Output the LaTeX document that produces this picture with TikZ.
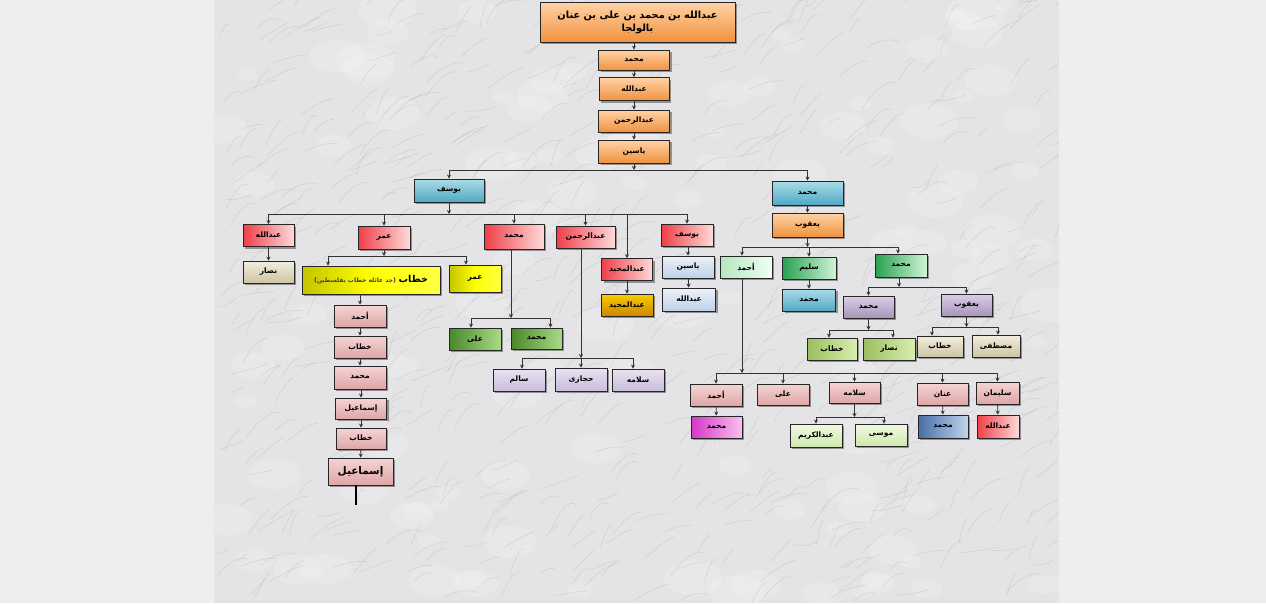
\documentclass[tikz,border=0pt]{standalone}
\usepackage{fontspec}
\usetikzlibrary{arrows.meta,shadows,calc}
\TeXXeTstate=1
\newfontfamily\ar[Script=Arabic]{DejaVu Sans}
\newfontfamily\dvl{DejaVu Sans}
\newcommand\rt[1]{\beginR#1\endR}
\definecolor{outerbg}{HTML}{EEEEEE}
\definecolor{marblebg}{HTML}{E4E4E7}
\tikzset{
  bx/.style={draw=black!85, line width=0.8pt, inner sep=1pt, align=center,
    font=\ar\bfseries\fontsize{7.5}{9}\selectfont,
    drop shadow={shadow xshift=2.2pt, shadow yshift=-2.2pt, opacity=0.5, fill=black!75}},
  sz/.style n args={2}{minimum width=#1pt, minimum height=#2pt},
  link/.style={draw=black!80, line width=0.9pt},
  arr/.style={link, -{Stealth[length=4pt,width=4pt]}},
  fOr/.style={top color=orange!35!white, bottom color={rgb,255:red,240;green,146;blue,63}},
  fBl/.style={top color={rgb,255:red,170;green,220;blue,232}, bottom color={rgb,255:red,80;green,168;blue,196}},
  fRd/.style={left color={rgb,255:red,240;green,62;blue,72}, right color={rgb,255:red,253;green,218;blue,218}},
  fPk/.style={top color={rgb,255:red,245;green,212;blue,212}, bottom color={rgb,255:red,222;green,166;blue,166}},
  fYe/.style={left color={rgb,255:red,196;green,196;blue,0}, right color={rgb,255:red,255;green,255;blue,70}, middle color={rgb,255:red,255;green,255;blue,0}},
  fGo/.style={top color={rgb,255:red,250;green,204;blue,0}, bottom color={rgb,255:red,206;green,134;blue,0}},
  fLb/.style={top color={rgb,255:red,236;green,242;blue,250}, bottom color={rgb,255:red,190;green,208;blue,232}},
  fBe/.style={top color={rgb,255:red,242;green,238;blue,222}, bottom color={rgb,255:red,204;green,196;blue,164}},
  fGr/.style={left color={rgb,255:red,72;green,136;blue,40}, right color={rgb,255:red,170;green,218;blue,136}},
  fGs/.style={left color={rgb,255:red,40;green,160;blue,80}, right color={rgb,255:red,208;green,245;blue,216}},
  fGa/.style={left color={rgb,255:red,180;green,230;blue,190}, right color={rgb,255:red,240;green,255;blue,242}},
  fGl/.style={left color={rgb,255:red,156;green,190;blue,92}, right color={rgb,255:red,216;green,238;blue,176}},
  fGp/.style={top color={rgb,255:red,242;green,250;blue,226}, bottom color={rgb,255:red,206;green,232;blue,174}},
  fLv/.style={top color={rgb,255:red,234;green,226;blue,242}, bottom color={rgb,255:red,200;green,188;blue,220}},
  fPg/.style={top color={rgb,255:red,218;green,206;blue,230}, bottom color={rgb,255:red,166;green,150;blue,184}},
  fMg/.style={left color={rgb,255:red,214;green,54;blue,200}, right color={rgb,255:red,248;green,192;blue,240}},
  fBg/.style={left color={rgb,255:red,72;green,110;blue,168}, right color={rgb,255:red,192;green,212;blue,236}},
}
\begin{document}
\begin{tikzpicture}[x=1pt,y=-1pt]
\useasboundingbox (0,0) rectangle (1266,603);
\fill[outerbg] (0,0) rectangle (1266,603);
\begin{scope}
\clip (214,0) rectangle (1059,603);
\fill[marblebg] (214,0) rectangle (1059,603);
\pgfmathsetseed{12}
\foreach \i in {1,...,120}{
  \pgfmathsetmacro\xa{214+845*rnd}
  \pgfmathsetmacro\ya{603*rnd}
  \pgfmathsetmacro\rx{8+22*rnd}
  \fill[white, opacity=0.16] (\xa,\ya) ellipse ({\rx} and {\rx*0.6});
}
\foreach \i in {1,...,650}{
  \pgfmathsetmacro\xa{214+845*rnd}
  \pgfmathsetmacro\ya{603*rnd}
  \pgfmathsetmacro\dx{8+30*rnd}
  \pgfmathsetmacro\dy{-4-22*rnd}
  \pgfmathsetmacro\cc{5*rand}
  \draw[black!60, opacity=0.18, line width=0.45pt] (\xa,\ya) .. controls +(\dx*0.3,\dy*0.5+\cc) and +(-\dx*0.3,\cc) .. +(\dx,\dy);
}
\end{scope}

% ---------- main chain ----------
\node[bx, fOr, sz={195}{40}, font=\ar\bfseries\fontsize{9.8}{13}\selectfont] (root) at (637.5,22) {\rt{عبدالله بن محمد بن على بن عنان}\\ \rt{بالولجا}};
\node[bx, fOr, sz={71}{20}] (n1) at (634,60) {\rt{محمد}};
\node[bx, fOr, sz={70}{23}] (n2) at (634,89) {\rt{عبدالله}};
\node[bx, fOr, sz={71}{22}] (n3) at (634,121) {\rt{عبدالرحمن}};
\node[bx, fOr, sz={71}{23}] (n4) at (634,151.5) {\rt{ياسين}};

\node[bx, fBl, sz={70}{23}] (yus) at (449,190.5) {\rt{يوسف}};
\node[bx, fBl, sz={71}{24}] (muhB) at (807.5,193) {\rt{محمد}};

% ---------- Yusuf branch ----------
\node[bx, fRd, sz={51}{22}] (cAbd) at (268.5,235.5) {\rt{عبدالله}};
\node[bx, fRd, sz={52}{23}] (cUmar) at (384,237.5) {\rt{عمر}};
\node[bx, fRd, sz={60}{25}] (cMuh) at (514,236.5) {\rt{محمد}};
\node[bx, fRd, sz={59}{22}] (cAbdr) at (585.5,237) {\rt{عبدالرحمن}};
\node[bx, fRd, sz={51}{22}] (cAbdm) at (627,269.5) {\rt{عبدالمجيد}};
\node[bx, fRd, sz={52}{22}] (cYus) at (687,235) {\rt{يوسف}};

\node[bx, fBe, sz={51}{22}] (nas1) at (268.5,272) {\rt{نصار}};

\node[bx, fYe, sz={138}{28}] (khat) at (371,280) {{\color{black!75}{\dvl\fontsize{6.5}{7}\selectfont(}\mbox{\fontsize{6}{7}\selectfont\rt{جد عائلة خطاب بفلسطين}}{\dvl\fontsize{6.5}{7}\selectfont)}}\ \mbox{\fontsize{9.5}{11}\selectfont\rt{خطاب}}};
\node[bx, fYe, sz={52}{27}] (umY) at (475,278.5) {\rt{عمر}};

\node[bx, fPk, sz={52}{22}] (a1) at (360,316) {\rt{أحمد}};
\node[bx, fPk, sz={52}{22}] (a2) at (360,347) {\rt{خطاب}};
\node[bx, fPk, sz={52}{23}] (a3) at (360,377.5) {\rt{محمد}};
\node[bx, fPk, sz={51}{21}] (a4) at (361,408.5) {\rt{إسماعيل}};
\node[bx, fPk, sz={50}{21}] (a5) at (361,438.5) {\rt{خطاب}};
\node[bx, fPk, sz={65}{27}, font=\ar\bfseries\fontsize{10.5}{12}\selectfont] (a6) at (360.5,471.5) {\rt{إسماعيل}};
\coordinate (endl) at (356,505);

\node[bx, fGr, sz={52}{22}] (ali) at (475,339) {\rt{على}};
\node[bx, fGr, sz={51}{21}] (muhGr) at (536.5,338.5) {\rt{محمد}};

\node[bx, fLv, sz={52}{22}] (salem) at (519,380) {\rt{سالم}};
\node[bx, fLv, sz={52}{23}] (hij) at (581,379.5) {\rt{حجازى}};
\node[bx, fLv, sz={52}{22}] (salama) at (638,380) {\rt{سلامه}};

\node[bx, fGo, sz={52}{22}] (gold) at (627,305) {\rt{عبدالمجيد}};
\node[bx, fLb, sz={52}{22}] (yasL) at (688,267) {\rt{ياسين}};
\node[bx, fLb, sz={53}{23}] (abdL) at (689,299.5) {\rt{عبدالله}};

% ---------- Muhammad branch ----------
\node[bx, fOr, sz={71}{24}] (yaqO) at (807.5,225) {\rt{يعقوب}};
\node[bx, fGa, sz={52}{22}] (ahG) at (746,267) {\rt{أحمد}};
\node[bx, fGs, sz={54}{22}] (salim) at (809,268) {\rt{سليم}};
\node[bx, fGs, sz={52}{23}] (muhG) at (901,265.5) {\rt{محمد}};
\node[bx, fBl, sz={53}{22}] (muhBl) at (809,300) {\rt{محمد}};

\node[bx, fPg, sz={51}{22}] (muhL) at (868.5,307) {\rt{محمد}};
\node[bx, fPg, sz={51}{22}] (yaqL) at (966.5,305) {\rt{يعقوب}};

\node[bx, fGl, sz={50}{22}] (khG) at (832,349) {\rt{خطاب}};
\node[bx, fGl, sz={52}{22}] (nasG) at (889,349) {\rt{نصار}};
\node[bx, fBe, sz={46}{21}] (khB) at (940,346.5) {\rt{خطاب}};
\node[bx, fBe, sz={48}{22}] (must) at (996,346) {\rt{مصطفى}};

\node[bx, fPk, sz={52}{22}] (bAh) at (716,395) {\rt{أحمد}};
\node[bx, fPk, sz={52}{21}] (bAli) at (783,394.5) {\rt{على}};
\node[bx, fPk, sz={51}{21}] (bSal) at (854.5,392.5) {\rt{سلامه}};
\node[bx, fPk, sz={51}{22}] (bAn) at (942.5,394) {\rt{عنان}};
\node[bx, fPk, sz={43}{22}] (bSul) at (997.5,393) {\rt{سليمان}};

\node[bx, fMg, sz={51}{22}] (mag) at (716.5,427) {\rt{محمد}};
\node[bx, fGp, sz={52}{23}] (karim) at (816,435.5) {\rt{عبدالكريم}};
\node[bx, fGp, sz={52}{22}] (musa) at (881,435) {\rt{موسى}};
\node[bx, fBg, sz={50}{23}] (bgm) at (943,426.5) {\rt{محمد}};
\node[bx, fRd, sz={42}{23}] (red2) at (998,426.5) {\rt{عبدالله}};

% ---------- bar levels ----------
\coordinate (b0) at (0,170);
\coordinate (b1) at (0,214);
\coordinate (b2) at (0,256);
\coordinate (b3) at (0,318);
\coordinate (b4) at (0,358);
\coordinate (b5) at (0,247);
\coordinate (b6) at (0,287);
\coordinate (b7) at (0,330);
\coordinate (b8) at (0,327);
\coordinate (b9) at (0,373);
\coordinate (b10) at (0,417);

% ---------- connectors ----------
\draw[arr] (root.south -| n1.north) -- (n1.north);
\draw[arr] (n1) -- (n2);
\draw[arr] (n2) -- (n3);
\draw[arr] (n3) -- (n4);
\draw[arr] (n4.south) -- (n4.south |- b0);
\draw[link] (yus.north |- b0) -- (muhB.north |- b0);
\draw[arr] (yus.north |- b0) -- (yus.north);
\draw[arr] (muhB.north |- b0) -- (muhB.north);

\draw[arr] (yus.south) -- (yus.south |- b1);
\draw[link] (cAbd.north |- b1) -- (cYus.north |- b1);
\foreach \c in {cAbd,cUmar,cMuh,cAbdr,cAbdm,cYus}
  \draw[arr] (\c.north |- b1) -- (\c.north);

\draw[arr] (cAbd) -- (nas1);

\draw[arr] (cUmar.south) -- (cUmar.south |- b2);
\draw[link] ([xshift=-43pt]khat.north |- b2) -- ([xshift=-9pt]umY.north |- b2);
\draw[arr] ([xshift=-43pt]khat.north |- b2) -- ([xshift=-43pt]khat.north);
\draw[arr] ([xshift=-9pt]umY.north |- b2) -- ([xshift=-9pt]umY.north);

\draw[arr] (khat.south -| a1.north) -- (a1.north);
\draw[arr] (a1) -- (a2);
\draw[arr] (a2) -- (a3);
\draw[arr] (a3.south -| a4.north) -- (a4.north);
\draw[arr] (a4) -- (a5);
\draw[arr] (a5) -- (a6);
\draw[line width=2pt, black] (a6.south -| endl) -- (endl);

\draw[arr] ([xshift=-3pt]cMuh.south) -- ([xshift=-3pt]cMuh.south |- b3);
\draw[link] ([xshift=-4pt]ali.north |- b3) -- ([xshift=14pt]muhGr.north |- b3);
\draw[arr] ([xshift=-4pt]ali.north |- b3) -- ([xshift=-4pt]ali.north);
\draw[arr] ([xshift=14pt]muhGr.north |- b3) -- ([xshift=14pt]muhGr.north);

\draw[arr] ([xshift=-4.5pt]cAbdr.south) -- ([xshift=-4.5pt]cAbdr.south |- b4);
\draw[link] ([xshift=3pt]salem.north |- b4) -- ([xshift=-5pt]salama.north |- b4);
\draw[arr] ([xshift=3pt]salem.north |- b4) -- ([xshift=3pt]salem.north);
\draw[arr] (hij.north |- b4) -- (hij.north);
\draw[arr] ([xshift=-5pt]salama.north |- b4) -- ([xshift=-5pt]salama.north);

\draw[arr] (cAbdm) -- (gold);
\draw[arr] (cYus.south -| yasL.north) -- (yasL.north);
\draw[arr] (yasL) -- (abdL);

\draw[arr] (muhB) -- (yaqO);
\draw[arr] (yaqO.south) -- (yaqO.south |- b5);
\draw[link] ([xshift=-4pt]ahG.north |- b5) -- ([xshift=-3pt]muhG.north |- b5);
\draw[arr] ([xshift=-4pt]ahG.north |- b5) -- ([xshift=-4pt]ahG.north);
\draw[arr] (salim.north |- b5) -- (salim.north);
\draw[arr] ([xshift=-3pt]muhG.north |- b5) -- ([xshift=-3pt]muhG.north);
\draw[arr] (salim) -- (muhBl);

\draw[arr] ([xshift=-2pt]muhG.south) -- ([xshift=-2pt]muhG.south |- b6);
\draw[link] (muhL.north |- b6) -- (yaqL.north |- b6);
\draw[arr] (muhL.north |- b6) -- (muhL.north);
\draw[arr] (yaqL.north |- b6) -- (yaqL.north);

\draw[arr] (muhL.south) -- (muhL.south |- b7);
\draw[link] ([xshift=-3pt]khG.north |- b7) -- ([xshift=4pt]nasG.north |- b7);
\draw[arr] ([xshift=-3pt]khG.north |- b7) -- ([xshift=-3pt]khG.north);
\draw[arr] ([xshift=4pt]nasG.north |- b7) -- ([xshift=4pt]nasG.north);

\draw[arr] (yaqL.south) -- (yaqL.south |- b8);
\draw[link] ([xshift=-8pt]khB.north |- b8) -- ([xshift=2pt]must.north |- b8);
\draw[arr] ([xshift=-8pt]khB.north |- b8) -- ([xshift=-8pt]khB.north);
\draw[arr] ([xshift=2pt]must.north |- b8) -- ([xshift=2pt]must.north);

\draw[arr] ([xshift=-4pt]ahG.south) -- ([xshift=-4pt]ahG.south |- b9);
\draw[link] (bAh.north |- b9) -- (bSul.north |- b9);
\foreach \c in {bAh,bAli,bSal,bAn,bSul}
  \draw[arr] (\c.north |- b9) -- (\c.north);

\draw[arr] (bAh) -- (mag);
\draw[arr] (bSal.south) -- (bSal.south |- b10);
\draw[link] (karim.north |- b10) -- ([xshift=3pt]musa.north |- b10);
\draw[arr] (karim.north |- b10) -- (karim.north);
\draw[arr] ([xshift=3pt]musa.north |- b10) -- ([xshift=3pt]musa.north);
\draw[arr] (bAn) -- (bgm);
\draw[arr] (bSul) -- (red2);
\end{tikzpicture}
\end{document}
